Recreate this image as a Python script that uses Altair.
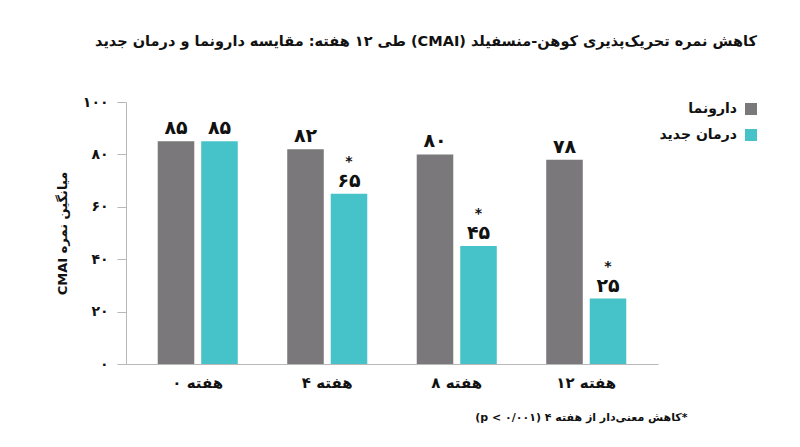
import altair as alt
import pandas as pd

GREY = "#7a787a"
TEAL = "#46c2c9"
AXIS = "#b8b8b8"
INK = "#111111"
FONT = "DejaVu Sans"

RLE, PDF = "\u202b", "\u202c"
FA = str.maketrans("0123456789", "۰۱۲۳۴۵۶۷۸۹")

TITLE = "کاهش نمره تحریک‌پذیری کوهن-منسفیلد (CMAI) طی ۱۲ هفته: مقایسه دارونما و درمان جدید"
Y_TITLE = "میانگین نمره CMAI"
FOOTNOTE = "*کاهش معنی‌دار از هفته ۴ (p < ۰/۰۰۱)"

WEEKS = ["هفته ۰", "هفته ۴", "هفته ۸", "هفته ۱۲"]
SERIES = ["دارونما", "درمان جدید"]
PLACEBO = [85, 82, 80, 78]
TREATMENT = [85, 65, 45, 25]
SIGNIFICANT = [False, True, True, True]
Y_TICKS = [0, 20, 40, 60, 80, 100]


def rtl(text: str) -> str:
    return RLE + text + PDF


rows = []
for week, p, t, sig in zip(WEEKS, PLACEBO, TREATMENT, SIGNIFICANT):
    rows.append({"week": week, "series": SERIES[0], "score": p,
                 "label": str(p).translate(FA), "star": ""})
    rows.append({"week": week, "series": SERIES[1], "score": t,
                 "label": str(t).translate(FA), "star": "*" if sig else ""})
df = pd.DataFrame(rows)

y_labels = "[" + ",".join(f"'{str(v).translate(FA)}'" for v in Y_TICKS) + "]"

base = alt.Chart(df).encode(
    x=alt.X(
        "week:N",
        sort=WEEKS,
        scale=alt.Scale(paddingInner=0.382, paddingOuter=0.245),
        axis=alt.Axis(
            title=rtl(FOOTNOTE),
            titleAnchor="end",
            titleAlign="right",
            titleX=561,
            titleY=53,
            titleBaseline="middle",
            titleFontSize=11,
            titleFontWeight="bold",
            labelAngle=0,
            labelPadding=11,
            labelFontSize=15,
            labelFontWeight="bold",
            ticks=False,
        ),
    ),
    xOffset=alt.XOffset("series:N", sort=SERIES,
                        scale=alt.Scale(paddingInner=0.16)),
    y=alt.Y(
        "score:Q",
        scale=alt.Scale(domain=[0, 100]),
        axis=alt.Axis(
            values=Y_TICKS,
            labelExpr=f"{y_labels}[datum.value / 20]",
            title=rtl(Y_TITLE),
            titleX=-64,
            titleY=131,
            titleAngle=-90,
            titleAlign="center",
            titleBaseline="middle",
            titleFontSize=13,
            titleFontWeight="bold",
            labelFontSize=14,
            labelFontWeight="bold",
            tickSize=9,
            labelPadding=9,
            grid=False,
        ),
    ),
)

bars = base.mark_bar().encode(
    color=alt.Color(
        "series:N",
        sort=SERIES,
        scale=alt.Scale(domain=SERIES, range=[GREY, TEAL]),
        legend=alt.Legend(
            title=None,
            orient="none",
            legendX=597,
            legendY=0,
            symbolType="square",
            symbolSize=144,
            symbolStrokeWidth=0,
            symbolOffset=21,
            labelAlign="right",
            labelOffset=alt.ExprRef(expr="-21"),
            labelFontSize=14,
            labelFontWeight="bold",
            rowPadding=12,
        ),
    )
)

values = base.mark_text(
    baseline="bottom", dy=-3, fontSize=19, fontWeight="bold", color=INK,
).encode(text="label:N")

stars = base.mark_text(
    baseline="bottom", dy=-25, fontSize=14, fontWeight="bold", color=INK,
).encode(text="star:N")

chart = (
    alt.layer(bars, values, stars)
    .properties(
        width=532,
        height=262,
        padding={"left": 47, "top": 25, "right": 5, "bottom": 5},
        title=alt.TitleParams(
            rtl(TITLE), anchor="end", frame="bounds",
            fontSize=14.5, fontWeight="bold", color=INK, offset=46,
        ),
    )
    .configure_view(strokeWidth=0)
    .configure_axis(
        domainColor=AXIS,
        tickColor=AXIS,
        labelColor=INK,
        titleColor=INK,
        labelFont=FONT,
        titleFont=FONT,
    )
    .configure_legend(labelFont=FONT, labelColor=INK)
    .configure_title(font=FONT)
    .configure_text(font=FONT)
)

chart.save("out.html", embed_options={"renderer": "svg", "actions": False})
